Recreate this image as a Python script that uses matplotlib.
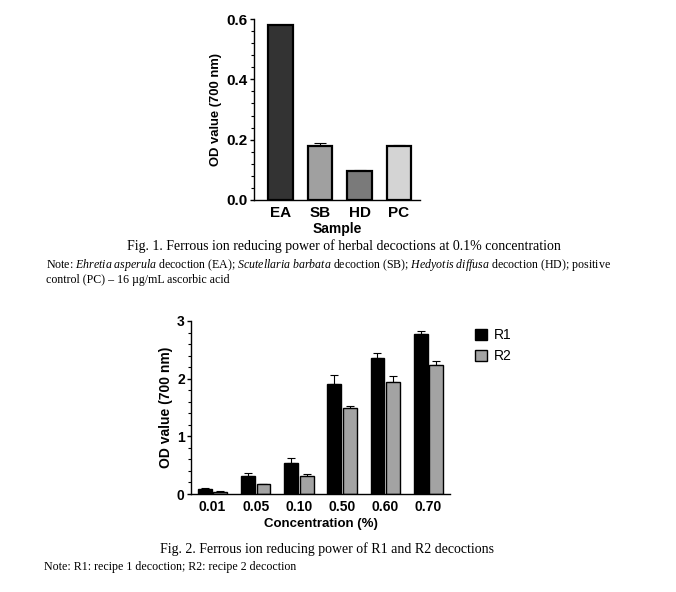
import numpy as np
import matplotlib
matplotlib.use("Agg")
import matplotlib.pyplot as plt
from matplotlib.ticker import MultipleLocator, FormatStrFormatter

# Fig. 1 data
samples = ["EA", "SB", "HD", "PC"]
od_samples = [0.58, 0.178, 0.095, 0.178]
err_samples = [0.0, 0.010, 0.004, 0.004]
sample_colors = ["#333333", "#a0a0a0", "#7a7a7a", "#d4d4d4"]

# Fig. 2 data
concentrations = ["0.01", "0.05", "0.10", "0.50", "0.60", "0.70"]
r1_values = [0.09, 0.32, 0.54, 1.90, 2.36, 2.77]
r1_errors = [0.02, 0.04, 0.09, 0.16, 0.08, 0.06]
r2_values = [0.04, 0.17, 0.31, 1.50, 1.94, 2.24]
r2_errors = [0.01, 0.005, 0.03, 0.03, 0.10, 0.06]

plt.rcParams['font.family'] = ['Liberation Sans', 'DejaVu Sans']
plt.rcParams['mathtext.fontset'] = 'custom'
plt.rcParams['mathtext.it'] = 'Liberation Serif:italic'
plt.rcParams['mathtext.rm'] = 'Liberation Serif'

fig = plt.figure(figsize=(6.76, 5.92), dpi=100)


def style_axes(ax, size):
    ax.spines['top'].set_visible(False)
    ax.spines['right'].set_visible(False)
    ax.spines['left'].set_linewidth(1.0)
    ax.spines['bottom'].set_linewidth(1.0)
    ax.tick_params(axis='y', which='major', length=3, width=1.0, labelsize=size, pad=1.5)
    ax.tick_params(axis='y', which='minor', length=2, width=0.8)
    ax.tick_params(axis='x', length=0, labelsize=size, pad=4)
    for lab in ax.get_xticklabels() + ax.get_yticklabels():
        lab.set_fontweight('bold')


# ---- top chart ----
ax1 = fig.add_axes([0.3757, 0.6622, 0.2456, 0.3057])
x1 = np.arange(len(samples))
ax1.bar(x1, od_samples, width=0.63, color=sample_colors, edgecolor='black', linewidth=1.6, zorder=2)
ax1.errorbar(x1, od_samples, yerr=[np.zeros(len(err_samples)), err_samples], fmt='none',
             ecolor='black', elinewidth=0.8, capsize=4, capthick=0.8, zorder=1)
ax1.set_xlim(-0.67, 3.53)
ax1.set_ylim(0, 0.6)
ax1.set_xticks(x1)
ax1.set_xticklabels(samples)
ax1.yaxis.set_major_locator(MultipleLocator(0.2))
ax1.yaxis.set_minor_locator(MultipleLocator(0.04))
ax1.yaxis.set_major_formatter(FormatStrFormatter('%.1f'))
style_axes(ax1, 11)
ax1.set_xlabel("Sample", fontsize=10, fontweight='bold', labelpad=2)
ax1.set_ylabel("OD value (700 nm)", fontsize=9.4, fontweight='bold', labelpad=3)

# ---- bottom chart ----
ax2 = fig.add_axes([0.2825, 0.1655, 0.3831, 0.2923])
x2 = np.arange(len(concentrations))
w = 0.32
off = 0.18
ax2.bar(x2 - off, r1_values, width=w, color='black', edgecolor='black', linewidth=1.0, label='R1', zorder=2)
ax2.bar(x2 + off, r2_values, width=w, color='#a3a3a3', edgecolor='black', linewidth=1.0, label='R2', zorder=2)
ax2.errorbar(x2 - off, r1_values, yerr=[np.zeros(len(r1_errors)), r1_errors], fmt='none',
             ecolor='black', elinewidth=0.8, capsize=3, capthick=0.8, zorder=1)
ax2.errorbar(x2 + off, r2_values, yerr=[np.zeros(len(r2_errors)), r2_errors], fmt='none',
             ecolor='black', elinewidth=0.8, capsize=3, capthick=0.8, zorder=1)
ax2.set_xlim(-0.5, 5.5)
ax2.set_ylim(0, 3)
ax2.set_xticks(x2)
ax2.set_xticklabels(concentrations)
ax2.yaxis.set_major_locator(MultipleLocator(1))
ax2.yaxis.set_minor_locator(MultipleLocator(0.2))
style_axes(ax2, 10)
ax2.set_xlabel("Concentration (%)", fontsize=9.5, fontweight='bold', labelpad=3)
ax2.set_ylabel("OD value (700 nm)", fontsize=10, fontweight='bold', labelpad=3)
ax2.legend(loc='upper left', bbox_to_anchor=(1.047, 1.03), frameon=False, fontsize=10,
           handlelength=0.9, handleheight=0.9, handletextpad=0.5, labelspacing=0.5)

# ---- captions ----
serif = ['Liberation Serif', 'DejaVu Serif']
fig.text(343.5 / 676, 1 - 246 / 592, "Fig. 1. Ferrous ion reducing power of herbal decoctions at 0.1% concentration",
         ha='center', va='center', fontsize=10, family=serif)
fig.text(46 / 676, 1 - 265 / 592,
         "Note: $\\it{Ehretia\\ asperula}$ decoction (EA); $\\it{Scutellaria\\ barbata}$ decoction (SB); "
         "$\\it{Hedyotis\\ diffusa}$ decoction (HD); positive",
         ha='left', va='center', fontsize=8.6, family=serif)
fig.text(46 / 676, 1 - 280 / 592, "control (PC) \u2013 16 \u00b5g/mL ascorbic acid",
         ha='left', va='center', fontsize=8.6, family=serif)
fig.text(327.5 / 676, 1 - 549 / 592, "Fig. 2. Ferrous ion reducing power of R1 and R2 decoctions",
         ha='center', va='center', fontsize=10, family=serif)
fig.text(44 / 676, 1 - 567 / 592, "Note: R1: recipe 1 decoction; R2: recipe 2 decoction",
         ha='left', va='center', fontsize=8.6, family=serif)

fig.savefig("out.png", dpi=100)
plt.close(fig)
